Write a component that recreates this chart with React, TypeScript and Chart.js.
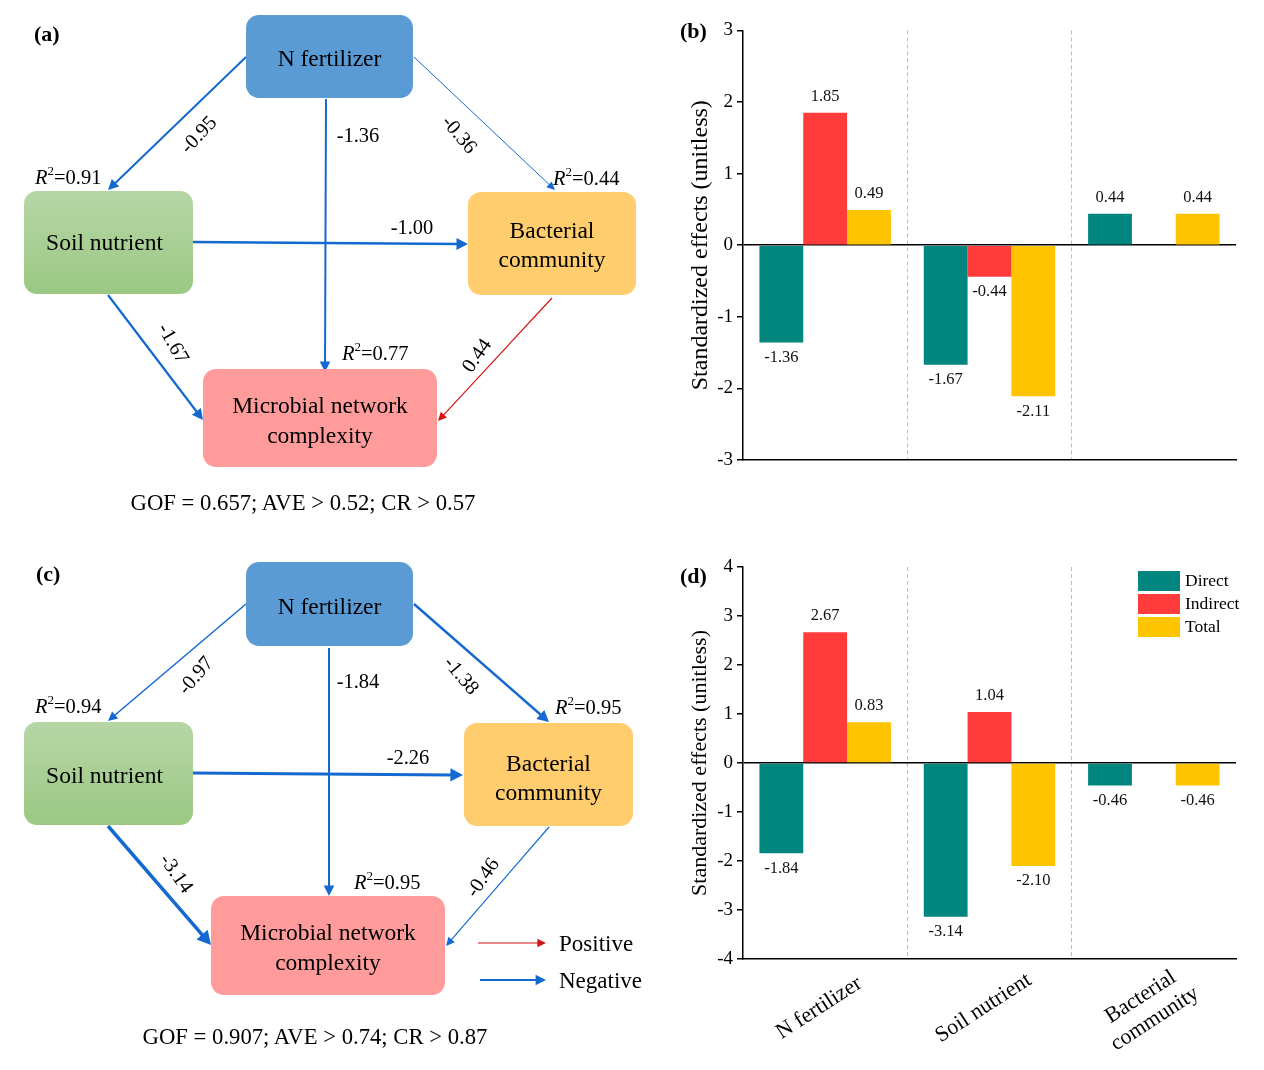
import React, { useEffect, useRef } from 'react';
import { Chart, registerables } from 'chart.js';

Chart.register(...registerables);

const FONT = '"Liberation Serif", "Times New Roman", Times, serif';
Chart.defaults.font.family = FONT;
Chart.defaults.color = '#000';

// ---------- bar chart data ----------
const categories = [['N fertilizer'], ['Soil nutrient'], ['Bacterial', 'community']];
const seriesNames = ['Direct', 'Indirect', 'Total'];
const bDirect = [-1.36, -1.67, 0.44];
const bIndirect = [1.85, -0.44, null];
const bTotal = [0.49, -2.11, 0.44];
const dDirect = [-1.84, -3.14, -0.46];
const dIndirect = [2.67, 1.04, null];
const dTotal = [0.83, -2.1, -0.46];
const bRange = [-3, 3];
const dRange = [-4, 4];

// ---------- path diagram data ----------
// order: N->Soil, N->Bact, N->Micro, Soil->Bact, Soil->Micro, Bact->Micro
const pathCoefA = [-0.95, -0.36, -1.36, -1.0, -1.67, 0.44];
const r2A = [0.91, 0.44, 0.77]; // Soil, Bact, Micro
const fitA = [0.657, 0.52, 0.57]; // GOF, AVE, CR
const pathCoefC = [-0.97, -1.38, -1.84, -2.26, -3.14, -0.46];
const r2C = [0.94, 0.95, 0.95];
const fitC = [0.907, 0.74, 0.87];

const SERIES_COLORS = ['#00857F', '#FF3B3C', '#FFC400'];
const BLUE = '#1469D0';
const RED = '#D41414';

const valueLabelPlugin = {
  id: 'valueLabels',
  afterDatasetsDraw(chart: any) {
    const ctx = chart.ctx;
    ctx.save();
    ctx.font = `16.5px ${FONT}`;
    ctx.fillStyle = '#111';
    ctx.textAlign = 'center';
    chart.data.datasets.forEach((ds: any, di: number) => {
      const meta = chart.getDatasetMeta(di);
      meta.data.forEach((el: any, i: number) => {
        const v = ds.data[i];
        if (v === null || v === undefined) return;
        const { x, y } = el.getProps(['x', 'y'], true);
        if (v >= 0) {
          ctx.textBaseline = 'bottom';
          ctx.fillText(v.toFixed(2), x, y - 8);
        } else {
          ctx.textBaseline = 'top';
          ctx.fillText(v.toFixed(2), x, y + 7);
        }
      });
    });
    ctx.restore();
  },
};

function makeXLabelPlugin(show: boolean) {
  return {
    id: 'xLabels',
    afterDraw(chart: any) {
      if (!show) return;
      const ctx = chart.ctx;
      const xs = chart.scales.x;
      ctx.save();
      ctx.font = `22px ${FONT}`;
      ctx.fillStyle = '#000';
      ctx.textAlign = 'center';
      ctx.textBaseline = 'middle';
      chart.data.labels.forEach((lab: any, i: number) => {
        const lines = Array.isArray(lab) ? lab : [lab];
        const x = xs.getPixelForTick(i) - 6;
        const y = xs.top + 49;
        ctx.save();
        ctx.translate(x, y);
        ctx.rotate((-33 * Math.PI) / 180);
        lines.forEach((ln: string, j: number) => {
          ctx.fillText(ln, 0, (j - (lines.length - 1) / 2) * 26);
        });
        ctx.restore();
      });
      ctx.restore();
    },
  };
}

function makeLegendPlugin(show: boolean) {
  return {
    id: 'boxLegend',
    afterDraw(chart: any) {
      if (!show) return;
      const ctx = chart.ctx;
      ctx.save();
      ctx.font = `17.5px ${FONT}`;
      ctx.textAlign = 'left';
      ctx.textBaseline = 'middle';
      chart.data.datasets.forEach((ds: any, i: number) => {
        const y = 21 + i * 23;
        ctx.fillStyle = ds.backgroundColor;
        ctx.fillRect(458, y, 42, 20);
        ctx.fillStyle = '#000';
        ctx.fillText(ds.label, 505, y + 10);
      });
      ctx.restore();
    },
  };
}

function BarPanel(props: {
  left: number; top: number; width: number; height: number;
  direct: (number | null)[]; indirect: (number | null)[]; total: (number | null)[];
  range: number[]; padTop: number; xHeight: number; showX: boolean; showLegend: boolean;
  titleSize: number; titlePad: number;
}) {
  const ref = useRef<HTMLCanvasElement>(null);
  useEffect(() => {
    const p = props;
    const chart = new Chart(ref.current as HTMLCanvasElement, {
      type: 'bar',
      data: {
        labels: categories as any,
        datasets: [
          { label: seriesNames[0], data: p.direct, backgroundColor: SERIES_COLORS[0] },
          { label: seriesNames[1], data: p.indirect, backgroundColor: SERIES_COLORS[1] },
          { label: seriesNames[2], data: p.total, backgroundColor: SERIES_COLORS[2] },
        ] as any,
      },
      options: {
        animation: false,
        responsive: false,
        maintainAspectRatio: false,
        devicePixelRatio: 1,
        layout: { padding: { left: 0, right: 14, top: p.padTop, bottom: 0 } },
        datasets: { bar: { categoryPercentage: 0.8, barPercentage: 1.0 } } as any,
        plugins: { legend: { display: false }, tooltip: { enabled: false } },
        scales: {
          x: {
            offset: true,
            grid: {
              offset: true,
              drawTicks: false,
              lineWidth: 1,
              color: (c: any) => (c.index === 1 || c.index === 2 ? '#bdbdbd' : 'rgba(0,0,0,0)'),
            },
            border: { display: true, color: '#000', width: 1.5, dash: [4, 3] },
            ticks: { display: false },
            afterFit: (s: any) => { s.height = p.xHeight; },
          },
          y: {
            min: p.range[0],
            max: p.range[1],
            ticks: { stepSize: 1, padding: 4, font: { size: 19 }, color: '#000' },
            grid: {
              color: (c: any) => (c.tick && c.tick.value === 0 ? '#000' : 'rgba(0,0,0,0)'),
              lineWidth: 1.5,
              tickColor: '#000',
              tickLength: 6,
              tickWidth: 1.5,
            },
            border: { display: true, color: '#000', width: 1.5 },
            title: {
              display: true,
              text: 'Standardized effects (unitless)',
              font: { size: p.titleSize },
              color: '#000',
              padding: { top: p.titlePad, bottom: 0 },
            },
            afterFit: (s: any) => { s.width = 63; },
          },
        },
      },
      plugins: [valueLabelPlugin, makeXLabelPlugin(p.showX), makeLegendPlugin(p.showLegend)],
    });
    return () => chart.destroy();
  }, []);
  return (
    <canvas
      ref={ref}
      width={props.width}
      height={props.height}
      style={{ position: 'absolute', left: props.left, top: props.top, width: props.width, height: props.height }}
    />
  );
}

// ---------- SVG diagram helpers ----------
function Arrow({ a, w, color }: { a: number[]; w: number; color: string }) {
  const [x1, y1, x2, y2] = a;
  const dx = x2 - x1, dy = y2 - y1;
  const len = Math.hypot(dx, dy);
  const ux = dx / len, uy = dy / len;
  const L = 6 + 2.2 * w, H = 2.5 + 1.4 * w;
  const bx = x2 - ux * L, by = y2 - uy * L;
  const px = -uy, py = ux;
  return (
    <g>
      <line x1={x1} y1={y1} x2={bx + ux * 2} y2={by + uy * 2} stroke={color} strokeWidth={w} />
      <polygon points={`${x2},${y2} ${bx + px * H},${by + py * H} ${bx - px * H},${by - py * H}`} fill={color} />
    </g>
  );
}

function Box({ r, fill, lines, ty, tx = 0 }: { r: number[]; fill: string; lines: string[]; ty: number[]; tx?: number }) {
  const [x, y, w, h] = r;
  return (
    <g>
      <rect x={x} y={y} width={w} height={h} rx={13} ry={13} fill={fill} />
      {lines.map((ln, i) => (
        <text key={i} x={x + w / 2 + tx} y={ty[i]} textAnchor="middle" dominantBaseline="central" fontSize={23.5}>
          {ln}
        </text>
      ))}
    </g>
  );
}

function R2({ x, y, v }: { x: number; y: number; v: number }) {
  return (
    <text x={x} y={y} dominantBaseline="central" fontSize={20.5}>
      <tspan fontStyle="italic">R</tspan>
      <tspan fontSize={13} dy={-7}>2</tspan>
      <tspan dy={7}>={v.toFixed(2)}</tspan>
    </text>
  );
}

function EdgeLabel({ x, y, rot, v }: { x: number; y: number; rot: number; v: number }) {
  return (
    <text transform={`translate(${x},${y}) rotate(${rot})`} textAnchor="middle" dominantBaseline="central" fontSize={20.5}>
      {v.toFixed(2)}
    </text>
  );
}

type DiagramLayout = {
  label: string; labelPos: number[];
  nBox: number[]; nTy: number[];
  sBox: number[]; sTy: number[];
  bBox: number[]; bTy: number[];
  mBox: number[]; mTy: number[];
  arrows: number[][]; widths: number[];
  edgeLabels: number[][]; // x, y, rot
  r2Pos: number[][];
  gofPos: number[];
};

function Diagram({ L, coef, r2, fit, gid }: { L: DiagramLayout; coef: number[]; r2: number[]; fit: number[]; gid: string }) {
  return (
    <g fontFamily={FONT} fill="#000">
      <defs>
        <linearGradient id={gid} x1="0" y1="0" x2="0" y2="1">
          <stop offset="0" stopColor="#B6D6A6" />
          <stop offset="1" stopColor="#9BC883" />
        </linearGradient>
      </defs>
      <text x={L.labelPos[0]} y={L.labelPos[1]} dominantBaseline="central" fontSize={22} fontWeight="bold">
        {L.label}
      </text>
      {L.arrows.map((a, i) => (
        <Arrow key={i} a={a} w={L.widths[i]} color={coef[i] > 0 ? RED : BLUE} />
      ))}
      <Box r={L.nBox} fill="#5B9BD5" lines={['N fertilizer']} ty={L.nTy} />
      <Box r={L.sBox} fill={`url(#${gid})`} lines={['Soil nutrient']} ty={L.sTy} tx={-4} />
      <Box r={L.bBox} fill="#FFCC6E" lines={['Bacterial', 'community']} ty={L.bTy} />
      <Box r={L.mBox} fill="#FF9B9B" lines={['Microbial network', 'complexity']} ty={L.mTy} />
      {L.edgeLabels.map((e, i) => (
        <EdgeLabel key={i} x={e[0]} y={e[1]} rot={e[2]} v={coef[i]} />
      ))}
      {L.r2Pos.map((p, i) => (
        <R2 key={i} x={p[0]} y={p[1]} v={r2[i]} />
      ))}
      <text x={L.gofPos[0]} y={L.gofPos[1]} textAnchor="middle" dominantBaseline="central" fontSize={22.7}>
        {`GOF = ${fit[0].toFixed(3)}; AVE > ${fit[1].toFixed(2)}; CR > ${fit[2].toFixed(2)}`}
      </text>
    </g>
  );
}

const layoutA: DiagramLayout = {
  label: '(a)', labelPos: [34, 33],
  nBox: [246, 15, 167, 83], nTy: [58],
  sBox: [24, 191, 169, 103], sTy: [242],
  bBox: [468, 192, 168, 103], bTy: [230, 259],
  mBox: [203, 369, 234, 98], mTy: [405, 435],
  arrows: [
    [246, 57, 108, 190],
    [414, 57, 555, 190],
    [326, 99, 325, 372],
    [193, 242, 468, 244],
    [108, 295, 203, 420],
    [552, 298, 438, 421],
  ],
  widths: [2, 1, 2, 2.5, 2.2, 1.2],
  edgeLabels: [
    [198, 134, -47],
    [460, 134, 50],
    [358, 135, 0],
    [412, 227, 0],
    [174, 343, 60],
    [476, 355, -55],
  ],
  r2Pos: [[35, 177], [553, 178], [342, 353]],
  gofPos: [303, 502],
};

const layoutC: DiagramLayout = {
  label: '(c)', labelPos: [36, 573],
  nBox: [246, 562, 167, 84], nTy: [606],
  sBox: [24, 722, 169, 103], sTy: [775],
  bBox: [464, 723, 169, 103], bTy: [763, 792],
  mBox: [211, 896, 234, 99], mTy: [932, 962],
  arrows: [
    [246, 604, 108, 721],
    [414, 604, 549, 722],
    [329, 648, 329, 896],
    [193, 773, 463, 775],
    [108, 826, 211, 945],
    [549, 827, 446, 946],
  ],
  widths: [1.5, 2.5, 2, 3, 3.5, 1.2],
  edgeLabels: [
    [195, 675, -50],
    [462, 675, 50],
    [358, 681, 0],
    [408, 757, 0],
    [177, 873, 55],
    [482, 877, -55],
  ],
  r2Pos: [[35, 706], [555, 707], [354, 882]],
  gofPos: [315, 1036],
};

export default function App() {
  return (
    <div style={{ position: 'absolute', left: 0, top: 0, width: 1264, height: 1070, background: '#fff', overflow: 'hidden' }}>
      <BarPanel left={680} top={15} width={570} height={470} direct={bDirect} indirect={bIndirect} total={bTotal}
        range={bRange} padTop={15} xHeight={25} showX={false} showLegend={false} titleSize={24} titlePad={6} />
      <BarPanel left={680} top={550} width={570} height={520} direct={dDirect} indirect={dIndirect} total={dTotal}
        range={dRange} padTop={17} xHeight={111} showX={true} showLegend={true} titleSize={22} titlePad={7} />
      <svg width={1264} height={1070} style={{ position: 'absolute', left: 0, top: 0, pointerEvents: 'none' }}>
        <Diagram L={layoutA} coef={pathCoefA} r2={r2A} fit={fitA} gid="soilGradA" />
        <Diagram L={layoutC} coef={pathCoefC} r2={r2C} fit={fitC} gid="soilGradC" />
        <g fontFamily={FONT} fill="#000">
          <Arrow a={[478, 943, 546, 943]} w={1.2} color={RED} />
          <text x={559} y={943} dominantBaseline="central" fontSize={23}>Positive</text>
          <Arrow a={[480, 980, 546, 980]} w={2} color={BLUE} />
          <text x={559} y={980} dominantBaseline="central" fontSize={23}>Negative</text>
          <text x={680} y={30} dominantBaseline="central" fontSize={22} fontWeight="bold">(b)</text>
          <text x={680} y={575} dominantBaseline="central" fontSize={22} fontWeight="bold">(d)</text>
        </g>
      </svg>
    </div>
  );
}
